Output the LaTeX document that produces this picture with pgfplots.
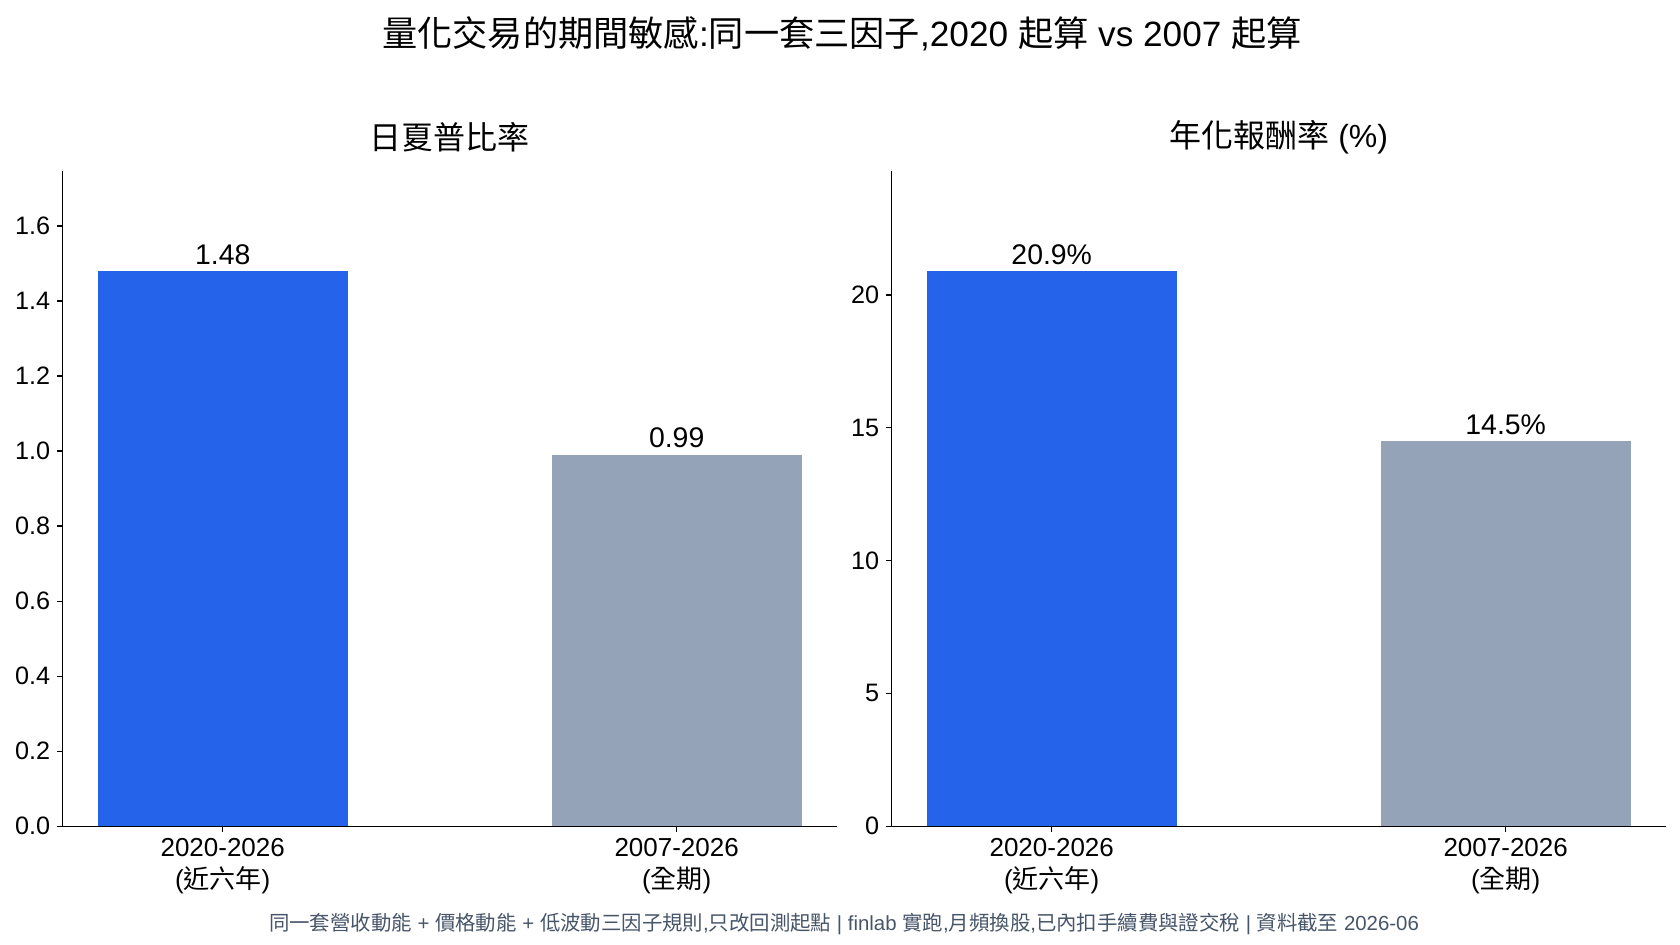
\documentclass[border=0pt]{standalone}
\usepackage{fontspec}
\setmainfont{Liberation Sans}
\newfontfamily\cjk{Noto Sans CJK TC}
\usepackage{pgfplots}
\pgfplotsset{compat=1.18}
\definecolor{barblue}{HTML}{2563EB}
\definecolor{bargrey}{HTML}{94A3B8}
\definecolor{foot}{HTML}{475569}
\pgfplotsset{
 myaxis/.style={
  scale only axis, anchor=south west,
  width=387pt, height=327.65pt,
  xmin=-0.3525, xmax=1.3525, ymin=0,
  axis x line*=bottom, axis y line*=left,
  axis line style={line width=0.65pt, black, -},
  tick style={line width=0.65pt, black},
  tick align=outside, major tick length=2.7pt,
  ybar, bar width=0.55, bar shift=0pt,
  xtick={0,1},
  xticklabels={{2020-2026\\({\cjk 近六年})}, {2007-2026\\({\cjk 全期})}},
  xticklabel style={align=center, font=\fontsize{13}{15.6}\selectfont},
  yticklabel style={font=\fontsize{12.6}{15}\selectfont},
  /pgf/number format/assume math mode=true,
  title style={font=\fontsize{16}{18}\selectfont, at={(0.5,1)}, anchor=center, yshift=10.8pt},
  nodes near coords style={font=\fontsize{14.2}{16}\selectfont, anchor=south, inner sep=0pt, yshift=3.1pt, black},
  enlarge y limits=false,
 }
}
\begin{document}
\begin{tikzpicture}
\useasboundingbox (0,0) rectangle (840pt,472.5pt);
\node[font=\fontsize{17.6}{20}\selectfont] at (421pt,455.5pt) {{\cjk 量化交易的期間敏感}:{\cjk 同一套三因子},2020 {\cjk 起算} vs 2007 {\cjk 起算}};
\begin{axis}[myaxis, at={(31.35pt,59.35pt)}, ymax=1.7464,
  ytick={0,0.2,0.4,0.6,0.8,1.0,1.2,1.4,1.6},
  yticklabel={\pgfmathprintnumber[fixed,precision=1,zerofill]{\tick}},
  title={{\cjk 日夏普比率}},
  nodes near coords={\pgfmathprintnumber[fixed,precision=2,zerofill]{\pgfplotspointmeta}}]
\addplot[fill=barblue, draw=none] coordinates {(0,1.48)};
\addplot[fill=bargrey, draw=none] coordinates {(1,0.99)};
\end{axis}
\begin{axis}[myaxis, at={(445.85pt,59.35pt)}, ymax=24.662,
  ytick={0,5,10,15,20},
  title={{\cjk 年化報酬率} (\%)},
  nodes near coords={\pgfmathprintnumber[fixed,precision=1,zerofill]{\pgfplotspointmeta}\%}]
\addplot[fill=barblue, draw=none] coordinates {(0,20.9)};
\addplot[fill=bargrey, draw=none] coordinates {(1,14.5)};
\end{axis}
\node[font=\fontsize{10.2}{12}\selectfont, text=foot] at (422pt,10.5pt) {{\cjk 同一套營收動能} + {\cjk 價格動能} + {\cjk 低波動三因子規則},{\cjk 只改回測起點} | finlab {\cjk 實跑},{\cjk 月頻換股},{\cjk 已內扣手續費與證交稅} | {\cjk 資料截至} 2026-06};
\end{tikzpicture}
\end{document}
